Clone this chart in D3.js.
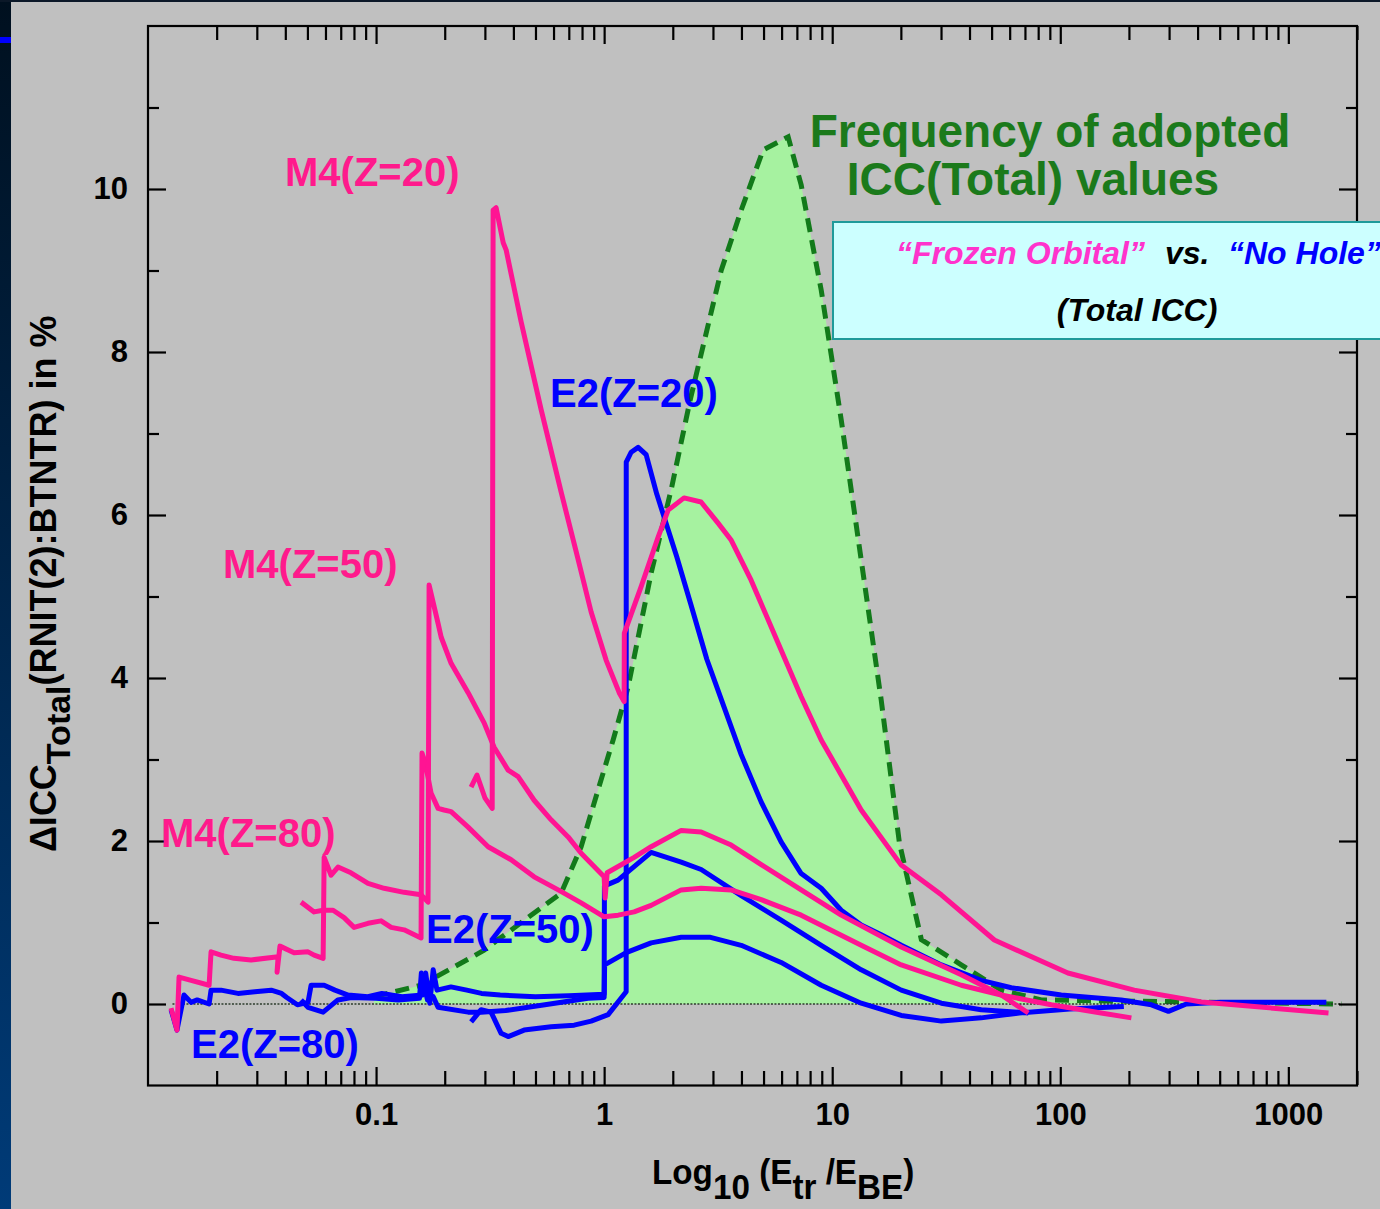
<!DOCTYPE html>
<html><head><meta charset="utf-8">
<script src="https://cdn.jsdelivr.net/npm/d3@7"></script>
<style>body{margin:0;background:#c0c0c0;} svg{display:block}</style>
</head><body>
<svg id="chart" width="1380" height="1209"></svg>
<script>
// ---------- data (x = E_tr/E_BE, y = ΔICC in %) ----------
const xTickLabels = [0.1, 1, 10, 100, 1000];
const yTickLabels = [0, 2, 4, 6, 8, 10];
const yMinorTicks = [1, 3, 5, 7, 9, 11];

// frequency of adopted ICC values (shaded, arbitrary scale)
const freqX = [0.098,0.1575,0.2977,0.3428,0.648,0.793,0.941,1.095,1.274,1.608,1.967,2.383,3.26,3.99,4.98,6.41,7.31,8.95,10.95,13.4,16.4,19.7,24.6,36.8,55.1,82.6,1708];
const freqY = [0.09,0.23,0.66,0.79,1.36,1.93,2.63,3.24,3.89,5.29,6.31,7.41,9.0,9.74,10.48,10.64,10.05,8.76,7.17,5.45,3.73,1.98,0.79,0.48,0.17,0.05,0.0];

// M4 Z=20 (pink)
const m4Z20 = [[0.261,2.66],[0.277,2.81],[0.300,2.53],[0.323,2.40],[0.326,9.74],[0.336,9.77],[0.361,9.34],[0.372,9.25],[0.4325,8.37],[0.5297,7.29],[0.648,6.28],[0.754,5.55],[0.877,4.81],[1.02,4.22],[1.164,3.82],[1.224,3.71],[1.226,4.55],[1.453,5.12],[1.725,5.73],[1.908,6.06],[2.24,6.21],[2.66,6.16],[3.16,5.90],[3.61,5.69],[4.41,5.20],[5.79,4.43],[7.31,3.77],[8.95,3.24],[13.4,2.38],[20.0,1.71],[30.1,1.34],[51.4,0.785],[108,0.38],[211,0.17],[416,0.025],[1500,-0.11]];
// M4 curve with the 5.0 edge (pink)
const m4Z80 = [[0.01262,-0.05],[0.0134,-0.32],[0.01368,0.33],[0.01545,0.29],[0.01853,0.23],[0.0189,0.64],[0.0209,0.60],[0.0238,0.56],[0.0283,0.54],[0.0372,0.58],[0.0368,0.39],[0.0379,0.71],[0.0437,0.63],[0.0503,0.64],[0.0535,0.60],[0.0586,0.56],[0.0592,1.80],[0.0635,1.58],[0.0681,1.68],[0.0776,1.61],[0.0922,1.48],[0.1084,1.42],[0.1327,1.37],[0.1575,1.34],[0.169,1.25],[0.1708,5.14],[0.187,4.67],[0.193,4.50],[0.2133,4.18],[0.2533,3.82],[0.2977,3.45],[0.3293,3.15],[0.3793,2.87],[0.4197,2.79],[0.4932,2.50],[0.5855,2.26],[0.6953,2.05],[0.7929,1.85],[1.0,1.56],[1.01,1.30],[1.031,1.61],[1.354,1.80],[1.607,1.93],[2.177,2.13],[2.664,2.11],[3.606,1.95],[4.883,1.71],[7.31,1.40],[10.95,1.09],[20.08,0.70],[36.8,0.36],[55.1,0.11],[72.4,-0.11]];
// M4 curve with the 2.9 edge (pink)
const m4Z50 = [[0.0469,1.25],[0.0535,1.13],[0.0586,1.15],[0.0648,1.15],[0.0724,1.06],[0.0801,0.94],[0.0922,0.99],[0.1052,1.02],[0.1164,0.94],[0.1327,0.91],[0.1575,0.81],[0.159,3.08],[0.164,2.97],[0.1742,2.59],[0.187,2.40],[0.1987,2.38],[0.2133,2.36],[0.2533,2.17],[0.31,1.93],[0.391,1.77],[0.4932,1.56],[0.629,1.40],[0.7929,1.24],[1.0,1.07],[1.152,1.09],[1.354,1.13],[1.607,1.21],[2.177,1.40],[2.664,1.42],[3.606,1.40],[4.883,1.28],[7.31,1.09],[13.4,0.72],[20.08,0.48],[36.8,0.23],[55.1,0.11],[91.3,-0.01],[151,-0.11],[205,-0.17]];

// E2 Z=20 (blue)
const e2Z20 = [[0.261,-0.22],[0.2888,-0.07],[0.3193,-0.10],[0.3534,-0.36],[0.3793,-0.40],[0.4457,-0.32],[0.5855,-0.28],[0.7386,-0.26],[0.877,-0.21],[1.041,-0.13],[1.249,0.15],[1.25,6.65],[1.313,6.77],[1.41,6.83],[1.528,6.74],[1.70,6.26],[2.08,5.49],[2.39,4.92],[2.82,4.23],[3.26,3.74],[3.99,3.06],[4.88,2.48],[5.97,1.99],[7.31,1.60],[8.95,1.42],[10.95,1.15],[13.4,0.97],[16.4,0.85],[20.08,0.72],[30.1,0.48],[45.0,0.29],[61.0,0.20],[101,0.11],[185,0.05],[251,-0.01],[298,-0.09],[357,0.0],[508,0.02],[1468,0.02]];
// E2 curve with small jump at 1 (blue)
const e2Z50 = [[0.0469,0.05],[0.0503,-0.04],[0.0586,-0.10],[0.068,0.05],[0.078,0.08],[0.1,0.07],[0.125,0.05],[0.155,0.07],[0.158,0.38],[0.168,0.05],[0.178,0.09],[0.187,-0.04],[0.2533,-0.10],[0.2888,-0.10],[0.37,-0.08],[0.55,-0.01],[0.85,0.07],[1.0,0.08],[1.005,0.48],[1.249,0.63],[1.607,0.75],[2.177,0.82],[2.9,0.82],[3.99,0.72],[5.97,0.51],[8.95,0.23],[13.4,0.01],[20.08,-0.14],[30.1,-0.21],[45.0,-0.17],[66,-0.11],[110,-0.06],[190,-0.03]];
// E2 curve with large jump at 1 (blue)
const e2Z80 = [[0.01262,-0.07],[0.0134,-0.32],[0.01438,0.11],[0.01545,0.02],[0.01643,0.05],[0.01853,0.0],[0.0189,0.17],[0.0209,0.17],[0.0248,0.13],[0.0294,0.15],[0.0347,0.17],[0.0385,0.13],[0.0406,0.08],[0.0452,-0.01],[0.0503,0.02],[0.0519,0.23],[0.0592,0.23],[0.066,0.17],[0.0754,0.11],[0.092,0.09],[0.106,0.13],[0.130,0.09],[0.160,0.11],[0.165,0.38],[0.172,0.01],[0.178,0.42],[0.185,0.17],[0.213,0.21],[0.25,0.17],[0.29,0.13],[0.35,0.11],[0.50,0.09],[0.70,0.10],[1.0,0.12],[1.003,1.45],[1.15,1.52],[1.607,1.86],[2.177,1.74],[2.664,1.65],[3.99,1.33],[5.97,1.03],[8.95,0.72],[13.4,0.42],[20.08,0.17],[30.1,0.01],[45.0,-0.07],[72.4,-0.11]];

const labels = [
  {t:"M4(Z=20)", x:285, y:186, c:"#ff1a8c"},
  {t:"M4(Z=50)", x:223, y:578, c:"#ff1a8c"},
  {t:"M4(Z=80)", x:161, y:847, c:"#ff1a8c"},
  {t:"E2(Z=20)", x:550, y:407, c:"#0000ff"},
  {t:"E2(Z=50)", x:426, y:943, c:"#0000ff"},
  {t:"E2(Z=80)", x:191, y:1058, c:"#0000ff"}
];

// ---------- drawing ----------
const svg = d3.select("#chart");
const W = 1380, H = 1209;
const defs = svg.append("defs");
const grad = defs.append("linearGradient").attr("id","strip").attr("x1",0).attr("y1",0).attr("x2",0).attr("y2",1);
grad.append("stop").attr("offset","0%").attr("stop-color","#00101f");
grad.append("stop").attr("offset","100%").attr("stop-color","#003b78");
svg.append("rect").attr("width",W).attr("height",H).attr("fill","#c0c0c0");
svg.append("rect").attr("x",0).attr("y",0).attr("width",11).attr("height",H).attr("fill","url(#strip)");
svg.append("rect").attr("x",0).attr("y",0).attr("width",W).attr("height",2).attr("fill","#0b1828");
svg.append("rect").attr("x",0).attr("y",37).attr("width",11).attr("height",6).attr("fill","#0000ff");

const x = d3.scaleLog().domain([0.01, 2000]).range([148, 1357]);
const y = d3.scaleLinear().domain([-1, 12]).range([1085.5, 26]);

// frequency area
const freq = freqX.map((v,i)=>[v,freqY[i]]);
svg.append("path").datum(freq)
  .attr("d", d3.area().x(d=>x(d[0])).y0(y(0)).y1(d=>y(d[1])))
  .attr("fill","#a6f2a0");
svg.append("path").datum(freq)
  .attr("d", d3.line().x(d=>x(d[0])).y(d=>y(d[1])))
  .attr("fill","none").attr("stroke","#127a1a").attr("stroke-width",5)
  .attr("stroke-dasharray","14,8");

// zero line
svg.append("path").datum([[0.0128,0],[1708,0]])
  .attr("d", d3.line().x(d=>x(d[0])).y(d=>y(d[1])))
  .attr("stroke","#2b3a2b").attr("stroke-width",1.3).attr("stroke-dasharray","2,1.5").attr("fill","none");

const line = d3.line().x(d=>x(d[0])).y(d=>y(d[1]));
const curves = [
  {d:e2Z50, c:"#0000ff"},{d:e2Z80, c:"#0000ff"},{d:e2Z20, c:"#0000ff"},
  {d:m4Z50, c:"#ff1493"},{d:m4Z80, c:"#ff1493"},{d:m4Z20, c:"#ff1493"}
];
svg.selectAll("path.curve").data(curves).enter().append("path")
  .attr("class","curve").attr("d", d=>line(d.d))
  .attr("fill","none").attr("stroke", d=>d.c).attr("stroke-width",5)
  .attr("stroke-linejoin","round").attr("stroke-linecap","butt");

// axes
const minorX = [];
for (let e=-2; e<=3; e++) for (let k=2; k<=9; k++) { const v=k*Math.pow(10,e); if (v<=2000) minorX.push(v); }
const font = "'Liberation Sans', Arial, Helvetica, sans-serif";

function styleAxis(g){ g.select(".domain").remove(); g.selectAll("line").attr("stroke","#000").attr("stroke-width",2.2); }

svg.append("g").attr("transform","translate(0,1085)")
  .call(d3.axisBottom(x).tickValues(minorX).tickSize(-14).tickFormat(""))
  .call(styleAxis);
svg.append("g").attr("transform","translate(0,1085)")
  .call(d3.axisBottom(x).tickValues(xTickLabels).tickSize(-18).tickPadding(18).tickFormat(d=>String(d)))
  .call(styleAxis)
  .call(g=>g.selectAll("text").attr("font-family",font).attr("font-weight","bold").attr("font-size",31).attr("fill","#000"));
svg.append("g").attr("transform","translate(0,26)")
  .call(d3.axisTop(x).tickValues(minorX).tickSize(-14).tickFormat(""))
  .call(styleAxis);
svg.append("g").attr("transform","translate(0,26)")
  .call(d3.axisTop(x).tickValues(xTickLabels).tickSize(-18).tickFormat(""))
  .call(styleAxis);

svg.append("g").attr("transform","translate(148,0)")
  .call(d3.axisLeft(y).tickValues(yMinorTicks).tickSize(-11).tickFormat(""))
  .call(styleAxis);
svg.append("g").attr("transform","translate(148,0)")
  .call(d3.axisLeft(y).tickValues(yTickLabels).tickSize(-18).tickPadding(20).tickFormat(d=>String(d)))
  .call(styleAxis)
  .call(g=>g.selectAll("text").attr("font-family",font).attr("font-weight","bold").attr("font-size",31).attr("fill","#000"));
svg.append("g").attr("transform","translate(1357,0)")
  .call(d3.axisRight(y).tickValues(yMinorTicks).tickSize(-11).tickFormat(""))
  .call(styleAxis);
svg.append("g").attr("transform","translate(1357,0)")
  .call(d3.axisRight(y).tickValues(yTickLabels).tickSize(-18).tickFormat(""))
  .call(styleAxis);

// frame
svg.append("rect").attr("x",148).attr("y",26).attr("width",1209).attr("height",1059.5)
  .attr("fill","none").attr("stroke","#000").attr("stroke-width",2.2);

// curve labels
svg.selectAll("text.lab").data(labels).enter().append("text")
  .attr("class","lab").attr("x",d=>d.x).attr("y",d=>d.y).text(d=>d.t)
  .attr("font-family",font).attr("font-weight","bold").attr("font-size",40).attr("fill",d=>d.c);

// title of shaded region
const tg = svg.append("text").attr("font-family",font).attr("font-weight","bold").attr("font-size",46)
  .attr("fill","#1b7a1b").attr("text-anchor","middle");
tg.append("tspan").attr("x",1050).attr("y",147).text("Frequency of adopted");
tg.append("tspan").attr("x",1033).attr("y",195).text("ICC(Total) values");

// legend box
svg.append("rect").attr("x",833).attr("y",222).attr("width",560).attr("height",117)
  .attr("fill","#ccffff").attr("stroke","#1f9a9a").attr("stroke-width",2);
function ltext(t,xx,yy,c,anchor){ svg.append("text").attr("x",xx).attr("y",yy).text(t)
  .attr("font-family",font).attr("font-size",32).attr("font-weight","bold").attr("font-style","italic")
  .attr("fill",c).attr("text-anchor",anchor||"start"); }
ltext("\u201CFrozen Orbital\u201D", 896, 264, "#ff33cc");
ltext("vs.", 1165, 264, "#000");
ltext("\u201CNo Hole\u201D", 1228, 264, "#0000ff");
ltext("(Total ICC)", 1137, 321, "#000", "middle");

// x-axis title
const xt = svg.append("text").attr("transform","translate(652,1184) scale(0.95,1)")
  .attr("font-family",font).attr("font-weight","bold").attr("font-size",35).attr("fill","#000");
xt.append("tspan").text("Log");
xt.append("tspan").attr("dy",15).text("10");
xt.append("tspan").attr("dy",-15).text(" (E");
xt.append("tspan").attr("dy",15).text("tr");
xt.append("tspan").attr("dy",-15).text("  /E");
xt.append("tspan").attr("dy",15).text("BE");
xt.append("tspan").attr("dy",-15).text(")");

// y-axis title
const yt = svg.append("text").attr("transform","translate(56,852) rotate(-90)")
  .attr("font-family",font).attr("font-weight","bold").attr("font-size",36).attr("fill","#000");
yt.append("tspan").text("\u0394ICC");
yt.append("tspan").attr("dy",14).attr("font-size",34).text("Total");
yt.append("tspan").attr("dy",-14).text("(RNIT(2):BTNTR) in %");
</script>
</body></html>
